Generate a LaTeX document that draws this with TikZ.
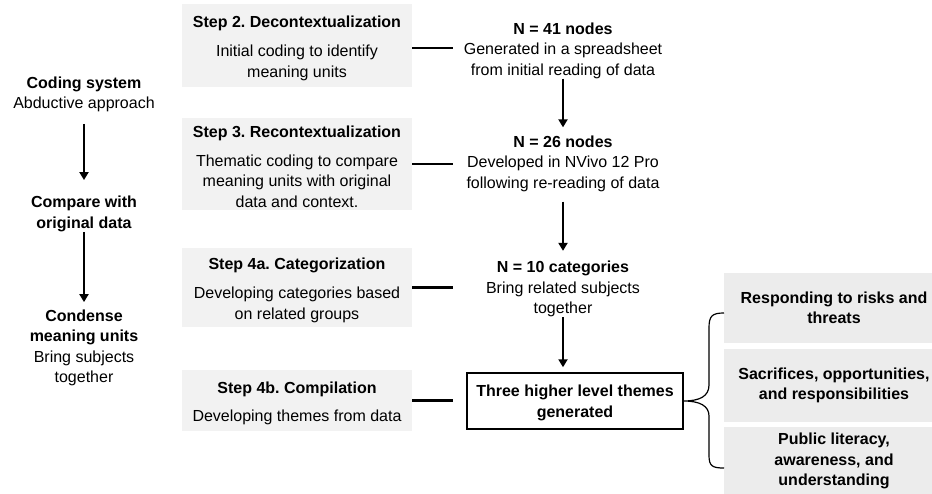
\documentclass[tikz,border=0pt]{standalone}
\usepackage{fontspec}
\setmainfont{Liberation Sans}
\frenchspacing
\usetikzlibrary{arrows.meta}
\newcommand\steptitle[1]{\rule{0pt}{17pt}\textbf{#1}}
\begin{document}
\begin{tikzpicture}[x=1pt,y=-1pt,
  every node/.style={inner sep=0pt,align=center,font=\fontsize{16}{20.5}\selectfont},
  stepbox/.style={fill=gray!10,minimum width=230pt},
  themebox/.style={fill=gray!15,minimum width=220pt,font=\fontsize{16}{20.5}\selectfont\bfseries},
  arr/.style={line width=2.6pt,-{Triangle[width=9pt,length=8pt]}},
  link/.style={line width=2.6pt,shorten >=13pt}]
  \useasboundingbox (0,0) rectangle (932,493);
  % Left column
  \node (code) at (84,94.5) {\textbf{Coding system}\\Abductive approach};
  \node (compare) at (84,214) {\textbf{Compare with}\\\textbf{original data}};
  \node (condense) at (84,348) {\textbf{Condense}\\\textbf{meaning units}\\Bring subjects\\together};
  \draw[arr,shorten <=11.5pt,shorten >=16pt] (code) -- (compare);
  \draw[arr,shorten >=7.5pt] (compare) -- (condense);
  % Steps
  \node (dec) [stepbox,minimum height=83pt] at (297,45.5) {\steptitle{Step 2. Decontextualization}\\[8.5pt]Initial coding to identify\\meaning units};
  \node (rec) [stepbox,minimum height=92pt] at (297,164) {\steptitle{Step 3. Recontextualization}\\[8.5pt]Thematic coding to compare\\meaning units with original\\data and context.};
  \node (cat) [stepbox,minimum height=79pt] at (297,287.5) {\steptitle{Step 4a. Categorization}\\[8.5pt]Developing categories based\\on related groups};
  \node (comp) [stepbox,minimum height=61pt] at (297,400.5) {\steptitle{Step 4b. Compilation}\\[7.5pt]Developing themes from data};
  % Results
  \node (n41) at (563,50.5) {\textbf{N = 41 nodes}\\Generated in a spreadsheet\\from initial reading of data};
  \node (n26) at (563,163.5) {\textbf{N = 26 nodes}\\Developed in NVivo 12 Pro\\following re-reading of data};
  \node (n10) at (563,289) {\textbf{N = 10 categories}\\Bring related subjects\\together};
  \node (themes) [draw,line width=1.5pt,minimum width=216pt,minimum height=56pt,font=\fontsize{16}{20.5}\selectfont\bfseries] at (575,401) {\rule{0pt}{15pt}Three higher level themes\\generated};
  \draw[arr,shorten >=8pt] (n41) -- (n26);
  \draw[arr,shorten <=10pt,shorten >=10pt] (n26) -- (n10);
  \draw[arr,shorten >=5pt] (n10) -- (n10 |- themes.north);
  \draw[link] ([yshift=-2.5pt]dec.east) -- ([yshift=-2.5pt]dec.east -| themes.west);
  \draw[link] (rec.east) -- (rec.east -| themes.west);
  \draw[link] (cat.east) -- (cat.east -| themes.west);
  \draw[link] (comp.east) -- (comp.east -| themes.west);
  % Themes
  \node (risks) [themebox,minimum height=70pt] at (834,308) {Responding to risks and\\threats};
  \node (sacrif) [themebox,minimum height=73pt] at (834,385.5) {Sacrifices, opportunities,\\and responsibilities};
  \node (literacy) [themebox,minimum height=68pt] at (834,461) {Public literacy,\\awareness, and\\understanding};
  % Brace
  \draw[line width=1.2pt] (724,313) .. controls (712,313) and (709,316) .. (709,328) -- (709,385)
    .. controls (709,396) and (700,401) .. (themes.east)
    .. controls (700,401) and (709,406) .. (709,416) -- (709,455)
    .. controls (709,466) and (712,468) .. (724,468);
\end{tikzpicture}
\end{document}
